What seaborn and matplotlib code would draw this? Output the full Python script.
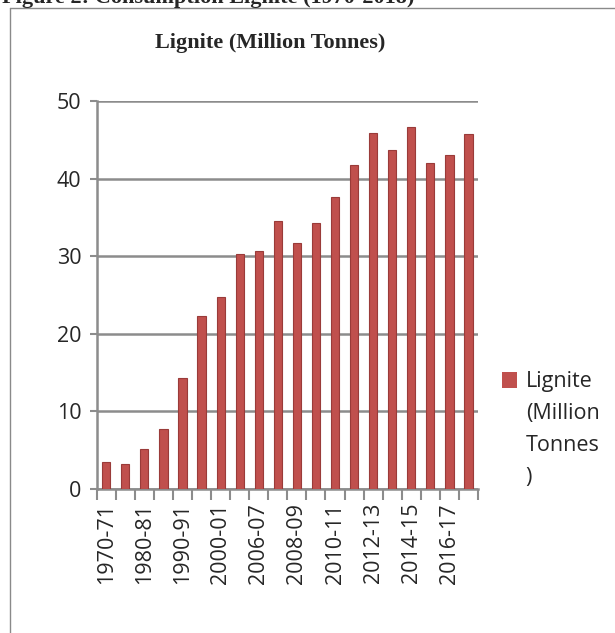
import matplotlib
matplotlib.use("Agg")
import matplotlib.pyplot as plt
import seaborn as sns
import pandas as pd
from matplotlib.patches import Patch
from matplotlib.lines import Line2D

years = ["1970-71", "1975-76", "1980-81", "1985-86", "1990-91", "1995-96",
         "2000-01", "2005-06", "2006-07", "2007-08", "2008-09", "2009-10",
         "2010-11", "2011-12", "2012-13", "2013-14", "2014-15", "2015-16",
         "2016-17", "2017-18"]
lignite = [3.5, 3.2, 5.2, 7.7, 14.3, 22.3, 24.7, 30.3, 30.7, 34.6, 31.7, 34.3,
           37.6, 41.7, 45.9, 43.7, 46.7, 42.0, 43.0, 45.7]
shown_labels = ["1970-71", "1980-81", "1990-91", "2000-01", "2006-07",
                "2008-09", "2010-11", "2012-13", "2014-15", "2016-17"]
yticks = [0, 10, 20, 30, 40, 50]
series_name = "Lignite (Million Tonnes)"
legend_first = "Lignite"
legend_rest = "(Million\nTonnes\n)"

sns.set_theme(style="white")
plt.rcParams['font.family'] = ['Open Sans', 'DejaVu Sans']

W, H = 615, 633
fig = plt.figure(figsize=(W / 100, H / 100), dpi=100)
ax = fig.add_axes([96.7 / W, 1 - 489 / H, (478 - 96.7) / W, (489 - 101) / H])

df = pd.DataFrame({"year": years, "value": lignite})
sns.barplot(data=df, x="year", y="value", color="#C0504D", width=0.43,
            edgecolor="#9A3B39", linewidth=0.8, saturation=1, ax=ax, zorder=3)

ax.set_xlim(-0.5, len(years) - 0.5)
ax.set_ylim(0, 50)
ax.set_yticks(yticks)
ax.set_yticklabels([str(v) for v in yticks], fontsize=15.5)
ax.yaxis.grid(True, color="#8C8C8C", linewidth=1.8, zorder=0)
ax.set_axisbelow(True)

pos = [years.index(l) for l in shown_labels]
ax.set_xticks(pos)
ax.set_xticklabels(shown_labels, rotation=90, fontsize=15.5)
ax.set_xticks([i - 0.5 for i in range(len(years) + 1)], minor=True)
ax.tick_params(axis="x", which="major", length=0, pad=10)
ax.tick_params(axis="x", which="minor", length=8, width=1.5, color="#8C8C8C", direction="out", bottom=True)
ax.tick_params(axis="y", which="major", length=5, width=1.5, color="#8C8C8C", direction="out", left=True, pad=6)
ax.set_xlabel("")
ax.set_ylabel("")

for s in ["top", "right"]:
    ax.spines[s].set_visible(False)
for s in ["left", "bottom"]:
    ax.spines[s].set_color("#8C8C8C")
    ax.spines[s].set_linewidth(1.8)

handle = Patch(facecolor="#C0504D", edgecolor="none")
leg = ax.legend([handle], [legend_first], loc="center left",
                bbox_to_anchor=(502 / W, 1 - 382 / H), bbox_transform=fig.transFigure,
                frameon=False, fontsize=15.5, handlelength=0.7, handleheight=0.7,
                handletextpad=0.4, borderpad=0, borderaxespad=0)

fig.canvas.draw()
tb = leg.get_texts()[0].get_window_extent(fig.canvas.get_renderer())
x_text = tb.x0 / (W)
fig.text(x_text, 1 - 403 / H, legend_rest, ha="left", va="top", fontsize=15.5,
         linespacing=1.68)

fig.text(270 / W, 1 - 43 / H, series_name, ha="center", va="center",
         fontsize=16, fontweight="bold", family="Liberation Serif")
fig.text(2 / W, 1 - 3 / H, "Figure 2: Consumption Lignite (1970-2018)", ha="left",
         va="baseline", fontsize=16, fontweight="bold", family="Liberation Serif")

fig.add_artist(Line2D([10 / W, 10 / W], [0, 1 - 8 / H], transform=fig.transFigure,
                      color="#8A8A8A", linewidth=1))
fig.add_artist(Line2D([10 / W, 1], [1 - 8 / H, 1 - 8 / H], transform=fig.transFigure,
                      color="#8A8A8A", linewidth=1))

fig.savefig("out.png", dpi=100)
